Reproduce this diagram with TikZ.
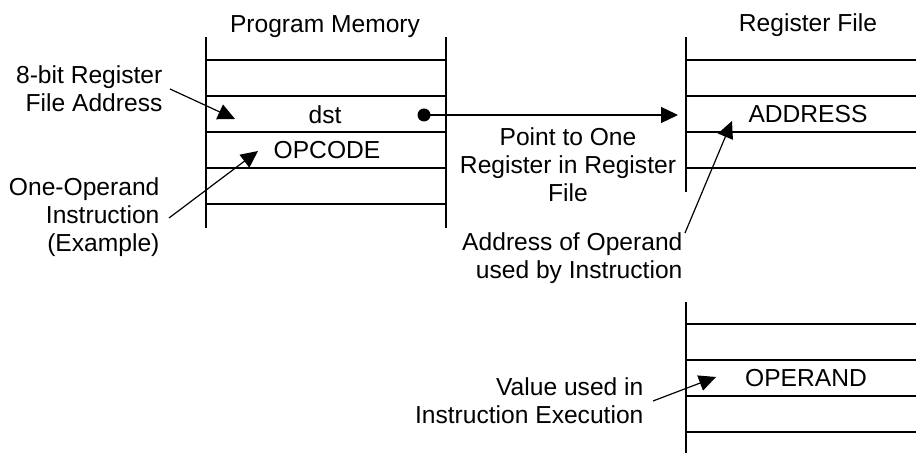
\documentclass[tikz,border=0pt]{standalone}
\usepackage{fontspec}
\setmainfont{Liberation Sans}
\usetikzlibrary{arrows.meta}
\begin{document}
\begin{tikzpicture}[x=0.5pt,y=-0.5pt,line width=0.6pt,
  lbl/.style={font=\fontsize{12.3}{14}\selectfont,inner sep=0pt},
  ptr/.style={-{Triangle[length=8.5pt,width=8pt]}},
  rule/.style={line width=0.6pt}]
\useasboundingbox (0,0) rectangle (916,453);
% Program memory
\draw[rule] (206,37) -- (206,228) (446,37) -- (446,228);
\foreach \y in {60,96,132,168,204} \draw[rule] (206,\y) -- (446,\y);
% Register file (upper)
\draw[rule] (686,37) -- (686,192);
\foreach \y in {60,96,132,168} \draw[rule] (686,\y) -- (916,\y);
% Register file (lower)
\draw[rule] (686,302) -- (686,453);
\foreach \y in {324,360,396,432} \draw[rule] (686,\y) -- (916,\y);
% texts
\node[lbl,anchor=base] (pm) at (325,33) {Program Memory};
\node[lbl,anchor=base] (rf) at (808,32) {Register File};
\node[lbl,anchor=base] (dst) at (325,124) {dst};
\node[lbl,anchor=base] (opc) at (327,159) {OPCODE};
\node[lbl,anchor=base] (addr) at (808,123) {ADDRESS};
\node[lbl,anchor=base] (opnd) at (806,387) {OPERAND};
\node[lbl,align=right,anchor=base east] (rfa) at (163,112) {8-bit Register\\File Address};
\node[lbl,align=right,anchor=base east] (ooi) at (160,252) {One-Operand\\Instruction\\(Example)};
\node[lbl,align=center,anchor=base] (pto) at (568,202) {Point to One\\Register in Register\\File};
\node[lbl,align=right,anchor=base east] (aoo) at (683,279) {Address of Operand\\used by Instruction};
\node[lbl,align=right,anchor=base east] (vui) at (644,424) {Value used in\\Instruction Execution};
% connectors
\node[circle,fill,inner sep=0pt,minimum size=6.5pt] (dot) at (424,115) {};
\coordinate (rfin) at (678,115);
\draw[ptr] (dot.center) -- (rfin);
\coordinate (s1) at (170,89);
\coordinate (t1) at (235,119);
\draw[ptr] (s1) -- (t1);
\coordinate (s2) at (169,218);
\coordinate (t2) at (258,151);
\draw[ptr] (s2) -- (t2);
\coordinate (s3) at (685,233);
\coordinate (t3) at (732,121);
\draw[ptr] (s3) -- (t3);
\coordinate (s4) at (653,401);
\coordinate (t4) at (716,377);
\draw[ptr] (s4) -- (t4);
\end{tikzpicture}
\end{document}
